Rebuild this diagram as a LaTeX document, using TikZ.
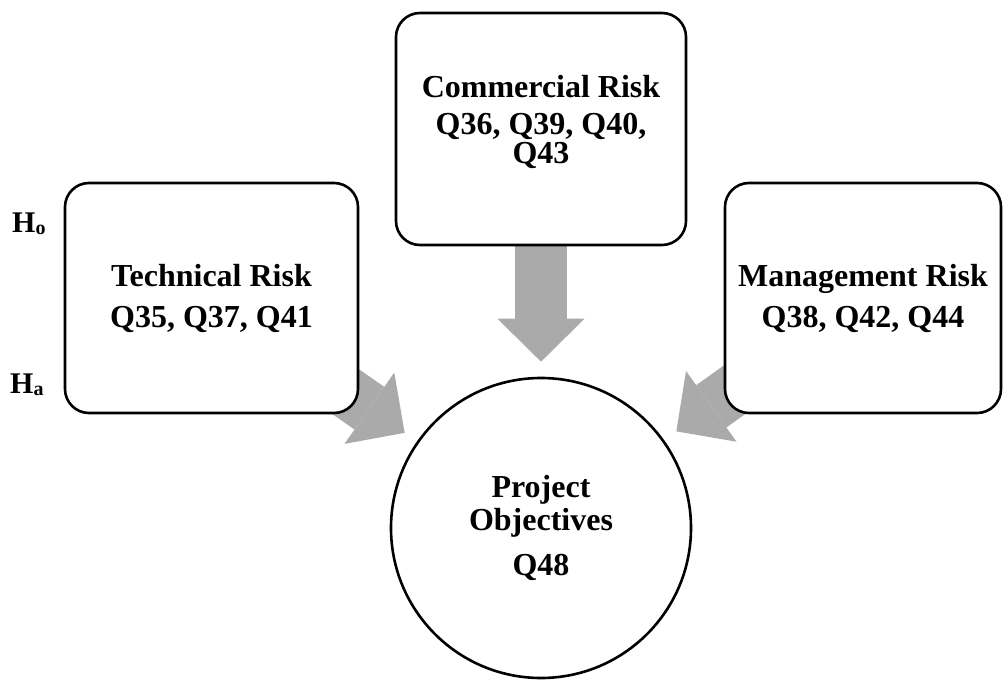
\documentclass[tikz,border=0pt]{standalone}
\usepackage{fontspec}
\setmainfont{Liberation Serif}
\usetikzlibrary{arrows.meta,backgrounds}
\definecolor{flowgray}{RGB}{170,170,170}
\begin{document}
\begin{tikzpicture}[x=1pt,y=1pt,
  riskbox/.style={draw, line width=2.6pt, rounded corners=24pt, fill=white,
    align=center, inner sep=0pt, font=\bfseries\fontsize{32}{41}\selectfont},
  goal/.style={draw, circle, line width=2.6pt, fill=white, minimum size=300pt,
    align=center, inner sep=0pt, font=\bfseries\fontsize{32}{33}\selectfont},
  flow/.style={line width=52pt, draw=flowgray,
    -{Triangle[width=87pt,length=43pt,line width=0pt]}, shorten >=15pt},
  hyp/.style={anchor=base west, inner sep=0pt, font=\bfseries\fontsize{30}{30}\selectfont}]
\useasboundingbox (0,0) rectangle (1003,681);

% risk factors
\node[riskbox, minimum width=290pt, minimum height=232pt,
  label={[name=commtxt, align=center, inner sep=0pt, yshift=7pt,
    font=\bfseries\fontsize{32}{29}\selectfont]center:{Commercial Risk\\[8pt] Q36, Q39, Q40,\\ Q43}}]
  (comm) at (541,552) {};
\node[riskbox, minimum width=293pt, minimum height=230pt] (tech) at (211.5,383)
  {Technical Risk\\ Q35, Q37, Q41};
\node[riskbox, minimum width=276pt, minimum height=230pt] (mgmt) at (863,383)
  {Management Risk\\ Q38, Q42, Q44};

% dependent variable
\node[goal] (obj) at (541,153) {Project\\ Objectives\\[12pt] Q48};

% hypotheses
\node[hyp] (h0) at (12,448) {H\raisebox{-2pt}{\fontsize{20}{20}\selectfont o}};
\node[hyp] (ha) at (10,288) {H\raisebox{-2pt}{\fontsize{20}{20}\selectfont a}};

% influence arrows
\begin{scope}[on background layer]
  \draw[flow] (comm.center) -- (obj);
  \draw[flow] (tech.center) -- (obj);
  \draw[flow] (mgmt.center) -- (obj);
\end{scope}
\end{tikzpicture}
\end{document}
